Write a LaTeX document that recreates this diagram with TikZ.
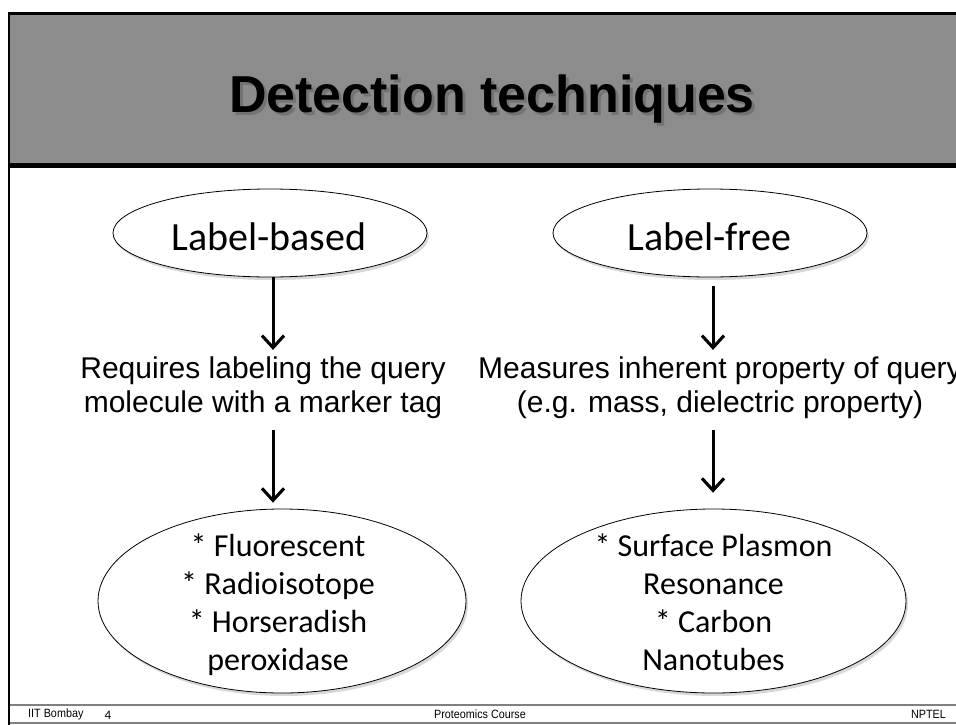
\documentclass[tikz,border=0pt]{standalone}
\usepackage{fontspec}
\setmainfont{Liberation Sans}
\newfontfamily\calfont{Carlito}
\usetikzlibrary{shapes.geometric,arrows.meta,shadows}
\definecolor{hdrgray}{HTML}{8C8C8C}
\definecolor{ftgray}{HTML}{808080}
\begin{document}
\begin{tikzpicture}[x=1pt,y=-1pt,
  oval/.style={ellipse, draw=black, line width=0.8pt, fill=white, inner sep=0pt,
    drop shadow={shadow xshift=2pt, shadow yshift=-3pt, fill=black!30}},
  ovaltext/.style={font=\calfont\fontsize{40}{46}\selectfont, inner sep=0pt},
  listtext/.style={font=\calfont\fontsize{32}{38}\selectfont, align=center, inner sep=0pt},
  desctext/.style={font=\fontsize{30}{34}\selectfont, align=center, inner sep=0pt},
  arr/.style={line width=3pt, draw=black, -{Straight Barb[length=12pt,width=22pt]}},
  arrsh/.style={line width=3pt, draw=black!30, -{Straight Barb[length=12pt,width=22pt]}},
  foot/.style={font=\fontsize{12}{14}\selectfont, inner sep=0pt}
]
\useasboundingbox (0,0) rectangle (956,725);
\clip (0,0) rectangle (956,725);
\fill[white] (0,0) rectangle (956,725);
% header
\fill[hdrgray] (9,14) rectangle (956,164);
\draw[line width=3pt] (8,14) -- (956,14);
\draw[line width=5pt] (9,165.5) -- (956,165.5);
\draw[line width=2pt] (9,12.5) -- (9,725);
% title
\node[font=\bfseries\fontsize{52}{60}\selectfont, text=black!55, anchor=base, inner sep=0pt] (titlesh) at (495,115) {Detection techniques};
\node[font=\bfseries\fontsize{52}{60}\selectfont, anchor=base, inner sep=0pt] (title) at (492,112) {Detection techniques};
% footer
\draw[ftgray, line width=2pt] (10,705) -- (956,705);
\draw[ftgray, line width=2pt] (10,723) -- (956,723);
\node[foot, anchor=west] (f1) at (28,714) {\scalebox{0.9}[1]{IIT Bombay}};
\node[font=\calfont\fontsize{13}{15}\selectfont, inner sep=0pt] (f2) at (108,715) {4};
\node[foot] (f3) at (480,714) {\scalebox{0.9}[1]{Proteomics Course}};
\node[foot, anchor=east] (f4) at (946,714) {\scalebox{0.9}[1]{NPTEL}};
% columns
\coordinate (colL) at (273,0);
\coordinate (colR) at (713,0);
% top ellipses
\node[oval, minimum width=314pt, minimum height=88pt] (lb) at (270,233) {};
\node[ovaltext, anchor=base] (lbt) at (269,250) {Label-based};
\node[oval, minimum width=314pt, minimum height=88pt] (lf) at (710,233) {};
\node[ovaltext, anchor=base] (lft) at (709.5,250) {Label-free};
% descriptions
\node[desctext] (req) at (263,388) {Requires labeling the query\\molecule with a marker tag};
\node[desctext] (mq) at (720,388) {Measures inherent property of query\\(e.g. mass, dielectric property)};
% bottom ellipses
\node[oval, minimum width=368pt, minimum height=184pt] (lbe) at (282,601) {};
\node[listtext] (lbet) at (278,604.5) {* Fluorescent\\* Radioisotope\\* Horseradish\\peroxidase};
\node[oval, minimum width=385pt, minimum height=184pt] (lfe) at (713.5,601) {};
\node[listtext] (lfet) at (713.5,602.5) {* Surface Plasmon\\Resonance\\* Carbon\\Nanotubes};
% arrows (shadows)
\begin{scope}[shift={(2,1)}]
\draw[arrsh, shorten >=7pt] (lb.south -| colL) -- (req.north -| colL);
\draw[arrsh, shorten <=9pt, shorten >=7pt] (lf.south -| colR) -- (mq.north -| colR);
\draw[arrsh, shorten <=10.5pt, shorten >=6pt] (req.south -| colL) -- (lbe.north -| colL);
\draw[arrsh, shorten <=10.5pt, shorten >=16pt] (mq.south -| colR) -- (lfe.north -| colR);
\end{scope}
% arrows
\draw[arr, shorten >=7pt] (lb.south -| colL) -- (req.north -| colL);
\draw[arr, shorten <=9pt, shorten >=7pt] (lf.south -| colR) -- (mq.north -| colR);
\draw[arr, shorten <=10.5pt, shorten >=6pt] (req.south -| colL) -- (lbe.north -| colL);
\draw[arr, shorten <=10.5pt, shorten >=16pt] (mq.south -| colR) -- (lfe.north -| colR);
\end{tikzpicture}
\end{document}
